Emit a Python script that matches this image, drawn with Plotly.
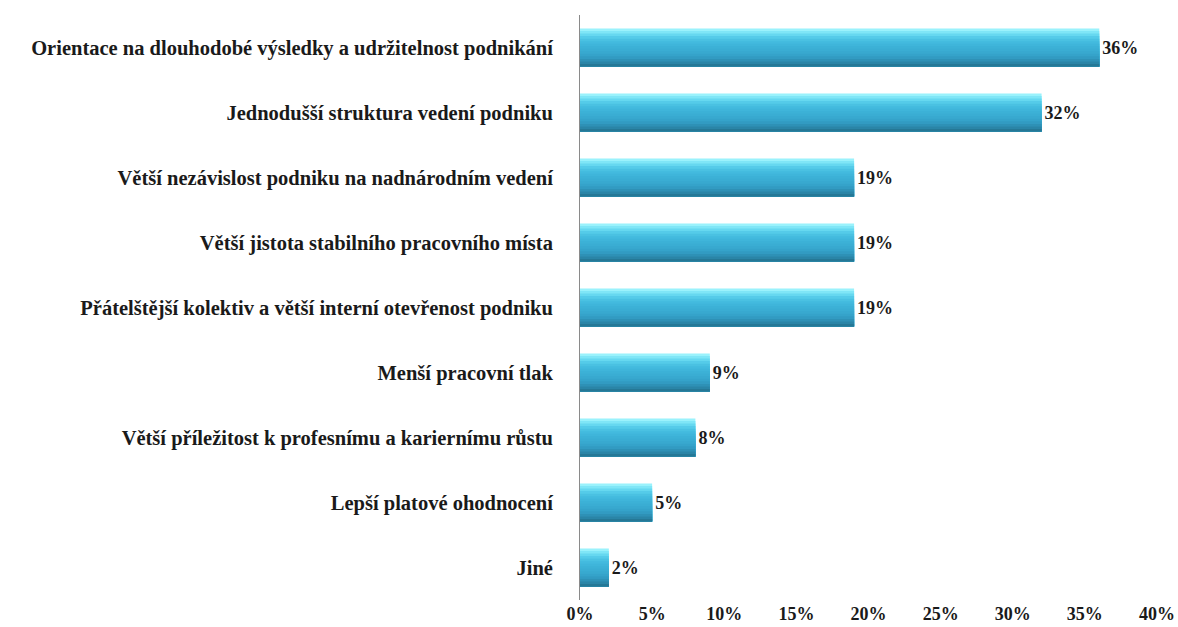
import plotly.graph_objects as go

categories = [
    "Orientace na dlouhodobé výsledky a udržitelnost podnikání",
    "Jednodušší struktura vedení podniku",
    "Větší nezávislost podniku na nadnárodním vedení",
    "Větší jistota stabilního pracovního místa",
    "Přátelštější kolektiv a větší interní otevřenost podniku",
    "Menší pracovní tlak",
    "Větší příležitost k profesnímu a kariernímu růstu",
    "Lepší platové ohodnocení",
    "Jiné",
]
values = [0.36, 0.32, 0.19, 0.19, 0.19, 0.09, 0.08, 0.05, 0.02]
value_labels = ["36%", "32%", "19%", "19%", "19%", "9%", "8%", "5%", "2%"]
x_ticks = [0, 0.05, 0.10, 0.15, 0.20, 0.25, 0.30, 0.35, 0.40]
x_tick_labels = ["0%", "5%", "10%", "15%", "20%", "25%", "30%", "35%", "40%"]

FONT = "Liberation Serif, Times New Roman, serif"
BW = 0.585
top = -BW / 2

# smooth vertical gradient across bar thickness (top -> bottom)
grad = [
    "#9af2fc", "#7fe6f7", "#66d8f0", "#55cbe9", "#4ac1e2", "#43bade",
    "#3fb5da", "#3cb1d6", "#3aadd3", "#38a9cf", "#35a3ca", "#329bc2",
    "#2e91b6", "#2a85a7", "#257896",
]
n = len(grad)

fig = go.Figure()
for i, col in enumerate(grad):
    # each layer runs from its start to the bottom edge, so layers overlap without gaps
    fig.add_trace(go.Bar(
        x=values, y=categories, orientation="h",
        offset=top + i * BW / n, width=BW - i * BW / n,
        marker=dict(color=col, line=dict(width=0)),
        hoverinfo="skip", showlegend=False,
    ))

# value labels on the full-thickness bar
fig.add_trace(go.Bar(
    x=values, y=categories, orientation="h",
    offset=top, width=BW,
    marker=dict(color="rgba(0,0,0,0)", line=dict(width=0)),
    text=value_labels, textposition="outside", cliponaxis=False,
    textfont=dict(family=FONT, size=18, color="#1a1a1a", weight="bold"),
    showlegend=False,
))

fig.update_layout(
    width=1178, height=627,
    margin=dict(l=580, r=21, t=15, b=27, autoexpand=False),
    barmode="overlay",
    plot_bgcolor="white", paper_bgcolor="white",
    font=dict(family=FONT, color="#1a1a1a"),
    xaxis=dict(
        range=[0, 0.40], tickvals=x_ticks, ticktext=x_tick_labels,
        showgrid=False, zeroline=False, showline=False, ticks="",
        ticklabelstandoff=1, automargin=False,
        tickfont=dict(family=FONT, size=18, color="#1a1a1a", weight="bold"),
    ),
    yaxis=dict(
        categoryorder="array", categoryarray=categories, autorange="reversed",
        showgrid=False, zeroline=False, showline=True, linecolor="#8a8a8a", linewidth=1,
        ticks="", ticklabelstandoff=22, automargin=False,
        tickfont=dict(family=FONT, size=20.5, color="#1a1a1a", weight="bold"),
    ),
)

fig.write_html("out.html")
